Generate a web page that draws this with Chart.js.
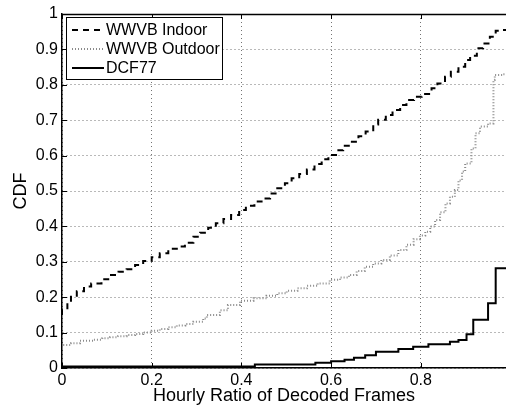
<!DOCTYPE html>
<html>
<head>
<meta charset="utf-8">
<script src="https://cdn.jsdelivr.net/npm/chart.js@4.4.1/dist/chart.umd.min.js"></script>
<style>
  html, body { margin: 0; padding: 0; background: #fff; }
</style>
</head>
<body>
<canvas id="cdf" width="506" height="410"></canvas>
<script>
// hourly ratio of decoded frames -> cumulative fraction of hours
const indoorX = [0, 0.012, 0.02, 0.033, 0.049, 0.065, 0.088, 0.107, 0.126, 0.144, 0.163, 0.181, 0.2, 0.218, 0.237, 0.256, 0.274, 0.293, 0.308, 0.326, 0.343, 0.36, 0.377, 0.395, 0.41, 0.429, 0.445, 0.464, 0.48, 0.497, 0.512, 0.529, 0.546, 0.563, 0.579, 0.594, 0.611, 0.627, 0.642, 0.661, 0.677, 0.694, 0.705, 0.722, 0.737, 0.754, 0.768, 0.785, 0.802, 0.824, 0.837, 0.854, 0.867, 0.884, 0.899, 0.91, 0.925, 0.939, 0.954, 0.967, 0.979, 0.99]
const indoorY = [0.15, 0.165, 0.183, 0.201, 0.217, 0.23, 0.239, 0.251, 0.263, 0.272, 0.279, 0.291, 0.302, 0.313, 0.324, 0.337, 0.343, 0.354, 0.371, 0.382, 0.396, 0.409, 0.421, 0.432, 0.446, 0.458, 0.47, 0.479, 0.493, 0.508, 0.522, 0.536, 0.548, 0.561, 0.576, 0.59, 0.602, 0.615, 0.628, 0.639, 0.655, 0.668, 0.688, 0.701, 0.715, 0.729, 0.743, 0.757, 0.766, 0.774, 0.79, 0.804, 0.823, 0.837, 0.851, 0.87, 0.882, 0.903, 0.917, 0.936, 0.953, 0.955]

const outdoorX = [0, 0.02, 0.04, 0.07, 0.09, 0.107, 0.125, 0.144, 0.163, 0.181, 0.2, 0.218, 0.237, 0.256, 0.275, 0.293, 0.315, 0.323, 0.352, 0.37, 0.397, 0.427, 0.456, 0.48, 0.501, 0.525, 0.546, 0.57, 0.597, 0.62, 0.64, 0.657, 0.675, 0.694, 0.712, 0.731, 0.75, 0.768, 0.784, 0.798, 0.81, 0.821, 0.832, 0.843, 0.855, 0.865, 0.876, 0.884, 0.892, 0.899, 0.913, 0.922, 0.932, 0.95, 0.962, 0.965, 0.984, 0.99]
const outdoorY = [0.06, 0.065, 0.07, 0.077, 0.08, 0.084, 0.087, 0.09, 0.093, 0.096, 0.1, 0.105, 0.11, 0.115, 0.12, 0.124, 0.131, 0.14, 0.15, 0.163, 0.178, 0.19, 0.197, 0.204, 0.211, 0.218, 0.225, 0.232, 0.239, 0.249, 0.256, 0.263, 0.274, 0.286, 0.295, 0.305, 0.318, 0.333, 0.348, 0.364, 0.374, 0.385, 0.4, 0.418, 0.44, 0.465, 0.484, 0.503, 0.53, 0.555, 0.578, 0.62, 0.663, 0.682, 0.691, 0.814, 0.828, 0.83]

const dcfX = [0, 0.43, 0.565, 0.6, 0.63, 0.651, 0.676, 0.7, 0.75, 0.783, 0.817, 0.865, 0.884, 0.902, 0.917, 0.95, 0.967, 0.984, 0.99]
const dcfY = [0, 0.004, 0.01, 0.015, 0.019, 0.023, 0.029, 0.036, 0.046, 0.054, 0.06, 0.067, 0.074, 0.079, 0.095, 0.136, 0.183, 0.282, 0.282]

const seriesNames = ['WWVB Indoor', 'WWVB Outdoor', 'DCF77']
const xTicks = [0, 0.2, 0.4, 0.6, 0.8]
const xTickLabels = ['0', '0.2', '0.4', '0.6', '0.8']
const yTicks = [0, 0.1, 0.2, 0.3, 0.4, 0.5, 0.6, 0.7, 0.8, 0.9, 1]
const yTickLabels = ['0', '0.1', '0.2', '0.3', '0.4', '0.5', '0.6', '0.7', '0.8', '0.9', '1']

function pts(xs, ys) {
    return xs.map((v, i) => ({x: v, y: ys[i]}))
}

Chart.defaults.font.family = '"Liberation Sans", Arial, Helvetica, sans-serif'
Chart.defaults.font.size = 16
Chart.defaults.color = '#000'

// top edge, inward tick marks and the boxed legend in the upper left
const boxExtras = {
    id: 'boxExtras',
    afterDraw(chart) {
        const ctx = chart.ctx
        const a = chart.chartArea
        const xs = chart.scales.x, ys = chart.scales.y
        ctx.save()
        ctx.strokeStyle = '#000'
        ctx.setLineDash([])
        ctx.lineWidth = 1.5
        ctx.beginPath()
        ctx.moveTo(a.left, a.top + 0.5)
        ctx.lineTo(a.right, a.top + 0.5)
        ctx.stroke()
        ctx.lineWidth = 1
        ctx.beginPath()
        xTicks.forEach(v => {
            const px = Math.round(xs.getPixelForValue(v)) + 0.5
            ctx.moveTo(px, a.bottom)
            ctx.lineTo(px, a.bottom - 5)
            ctx.moveTo(px, a.top)
            ctx.lineTo(px, a.top + 5)
        })
        yTicks.forEach(v => {
            const py = Math.round(ys.getPixelForValue(v)) + 0.5
            ctx.moveTo(a.left, py)
            ctx.lineTo(a.left + 5, py)
        })
        ctx.stroke()

        const lx = a.left + 4, ly = a.top + 3, lw = 156, lh = 62
        ctx.fillStyle = '#fff'
        ctx.fillRect(lx, ly, lw, lh)
        ctx.strokeRect(lx + 0.5, ly + 0.5, lw, lh)
        ctx.font = '16px "Liberation Sans", Arial, sans-serif'
        ctx.textBaseline = 'middle'
        ctx.fillStyle = '#000'
        chart.data.datasets.forEach((ds, i) => {
            const ry = ly + 13 + i * 19
            ctx.save()
            ctx.strokeStyle = ds.borderColor
            ctx.lineWidth = ds.borderWidth
            ctx.setLineDash(ds.borderDash || [])
            ctx.beginPath()
            ctx.moveTo(lx + 6, ry)
            ctx.lineTo(lx + 38, ry)
            ctx.stroke()
            ctx.restore()
            ctx.fillText(ds.label, lx + 40, ry + 1)
        })
        ctx.restore()
    }
}

const chart = new Chart(document.getElementById('cdf'), {
    type: 'line',
    data: {
        datasets: [
            {
                label: seriesNames[0],
                data: pts(indoorX, indoorY),
                borderColor: '#000',
                borderWidth: 2,
                borderDash: [6, 5],
                stepped: 'after',
                pointRadius: 0
            },
            {
                label: seriesNames[1],
                data: pts(outdoorX, outdoorY),
                borderColor: '#8a8a8a',
                borderWidth: 2,
                borderDash: [1, 2],
                stepped: 'after',
                pointRadius: 0
            },
            {
                label: seriesNames[2],
                data: pts(dcfX, dcfY),
                borderColor: '#000',
                borderWidth: 2,
                stepped: 'after',
                pointRadius: 0
            }
        ]
    },
    options: {
        responsive: false,
        animation: false,
        events: [],
        layout: {padding: {top: 14, right: 0, left: 0, bottom: 0}},
        plugins: {legend: {display: false}, tooltip: {enabled: false}},
        scales: {
            x: {
                type: 'linear',
                min: 0,
                max: 0.99,
                afterBuildTicks: s => { s.ticks = xTicks.map(v => ({value: v})) },
                afterFit: s => { s.height = 42 },
                ticks: {
                    autoSkip: false,
                    maxRotation: 0,
                    padding: 3,
                    callback: (v, i) => xTickLabels[i]
                },
                grid: {color: 'rgba(0,0,0,0.55)', lineWidth: 1, drawTicks: false},
                border: {color: '#000', width: 1.5, dash: [1, 3]},
                title: {display: true, text: 'Hourly Ratio of Decoded Frames', font: {size: 18}, padding: {top: 0, bottom: 3}}
            },
            y: {
                type: 'linear',
                min: 0,
                max: 1,
                afterBuildTicks: s => { s.ticks = yTicks.map(v => ({value: v})) },
                afterFit: s => { s.width = 62 },
                ticks: {
                    autoSkip: false,
                    padding: 4,
                    callback: (v, i) => yTickLabels[i]
                },
                grid: {color: 'rgba(0,0,0,0.55)', lineWidth: 1, drawTicks: false},
                border: {color: '#000', width: 1.5, dash: [1, 3]},
                title: {display: true, text: 'CDF', font: {size: 18}, padding: {top: 10, bottom: 0}}
            }
        }
    },
    plugins: [boxExtras]
})
</script>
</body>
</html>
